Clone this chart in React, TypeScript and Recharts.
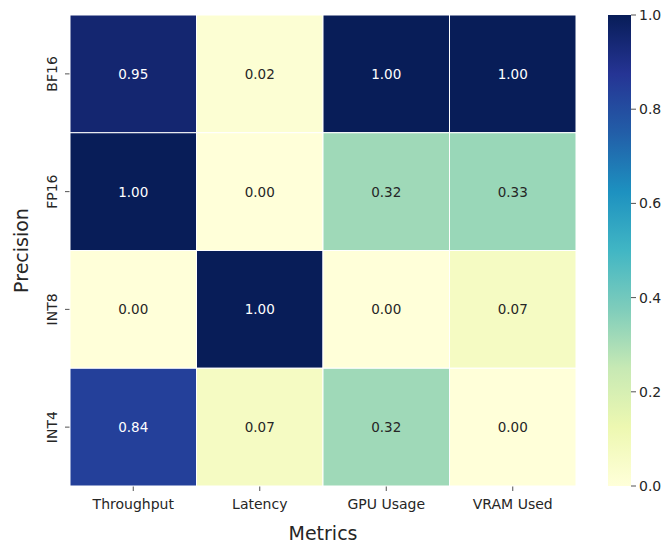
import React from 'react';
import { ScatterChart, Scatter, XAxis, YAxis, BarChart, Bar } from 'recharts';

const metrics = ['Throughput', 'Latency', 'GPU Usage', 'VRAM Used'];
const precisions = ['BF16', 'FP16', 'INT8', 'INT4'];

// normalized scores per precision, in metric order
const bf16 = [0.95, 0.02, 1.0, 1.0];
const fp16 = [1.0, 0.0, 0.32, 0.33];
const int8 = [0.0, 1.0, 0.0, 0.07];
const int4 = [0.84, 0.07, 0.32, 0.0];
const rows = [bf16, fp16, int8, int4];

const scaleTicks = [0, 0.2, 0.4, 0.6, 0.8, 1.0];

// YlGnBu stops (low -> high)
const ylgnbu = ['#ffffd9', '#edf8b1', '#c7e9b4', '#7fcdbb', '#41b6c4', '#1d91c0', '#225ea8', '#253494', '#081d58'];

const W = 662;
const H = 545;
const M = { top: 15, right: 86, bottom: 0, left: 0 };
const Y_AXIS_W = 70;
const X_AXIS_H = 59;
const PLOT_W = W - M.left - M.right - Y_AXIS_W;
const PLOT_H = H - M.top - M.bottom - X_AXIS_H;
const CELL_W = PLOT_W / metrics.length;
const CELL_H = PLOT_H / precisions.length;
const FONT = 'DejaVu Sans, sans-serif';
const INK = '#262626';

const hexToRgb = (h: string) => [1, 3, 5].map((i) => parseInt(h.slice(i, i + 2), 16));

const rgbAt = (v: number) => {
  const t = Math.max(0, Math.min(1, v)) * (ylgnbu.length - 1);
  const i = Math.min(Math.floor(t), ylgnbu.length - 2);
  const f = t - i;
  const a = hexToRgb(ylgnbu[i]);
  const b = hexToRgb(ylgnbu[i + 1]);
  return a.map((x, k) => x + (b[k] - x) * f);
};

const colorFor = (v: number) => {
  const c = rgbAt(v).map(Math.round);
  return `rgb(${c[0]},${c[1]},${c[2]})`;
};

// relative luminance, used to pick light or dark annotation text
const luminance = (v: number) => {
  const lin = rgbAt(v).map((x) => {
    const s = x / 255;
    return s <= 0.03928 ? s / 12.92 : Math.pow((s + 0.055) / 1.055, 2.4);
  });
  return 0.2126 * lin[0] + 0.7152 * lin[1] + 0.0722 * lin[2];
};

const cells = rows.flatMap((vals, r) =>
  vals.map((v, c) => ({ col: c + 0.5, row: r + 0.5, value: v }))
);

const HeatCell = (props: any) => {
  const { cx, cy, payload } = props;
  const v = payload.value;
  return (
    <g>
      <rect
        x={cx - CELL_W / 2}
        y={cy - CELL_H / 2}
        width={CELL_W}
        height={CELL_H}
        fill={colorFor(v)}
        stroke="#ffffff"
        strokeWidth={1}
      />
      <text
        x={cx}
        y={cy}
        textAnchor="middle"
        dominantBaseline="central"
        fontFamily={FONT}
        fontSize={13.5}
        fill={luminance(v) > 0.408 ? INK : '#ffffff'}
      >
        {v.toFixed(2)}
      </text>
    </g>
  );
};

const YTick = (props: any) => {
  const { x, y, payload } = props;
  const tx = x - 6;
  return (
    <text
      x={tx}
      y={y}
      transform={`rotate(-90, ${tx}, ${y})`}
      textAnchor="middle"
      fontFamily={FONT}
      fontSize={14}
      fill={INK}
    >
      {precisions[Math.floor(payload.value)]}
    </text>
  );
};

const App = () => {
  return (
    <div style={{ position: 'absolute', left: 0, top: 0, width: W, height: H, background: '#fff' }}>
      <ScatterChart width={W} height={H} margin={M}>
        <XAxis
          type="number"
          dataKey="col"
          domain={[0, metrics.length]}
          ticks={[0.5, 1.5, 2.5, 3.5]}
          tickFormatter={(v: number) => metrics[Math.floor(v)]}
          height={X_AXIS_H}
          axisLine={false}
          tickSize={5}
          tickLine={{ stroke: INK, strokeWidth: 0.8 }}
          tick={{ fill: INK, fontSize: 14, fontFamily: FONT }}
          tickMargin={8}
          interval={0}
          label={({ viewBox }: any) => (
            <text
              x={viewBox.x + viewBox.width / 2}
              y={viewBox.y + 54}
              textAnchor="middle"
              fontFamily={FONT}
              fontSize={19}
              fill={INK}
            >
              Metrics
            </text>
          )}
        />
        <YAxis
          type="number"
          dataKey="row"
          reversed
          domain={[0, precisions.length]}
          ticks={[0.5, 1.5, 2.5, 3.5]}
          width={Y_AXIS_W}
          axisLine={false}
          tickSize={5}
          tickLine={{ stroke: INK, strokeWidth: 0.8 }}
          tick={<YTick />}
          interval={0}
          label={({ viewBox }: any) => {
            const lx = viewBox.x + 21;
            const ly = viewBox.y + viewBox.height / 2;
            return (
              <text
                x={lx}
                y={ly}
                transform={`rotate(-90, ${lx}, ${ly})`}
                textAnchor="middle"
                dominantBaseline="central"
                fontFamily={FONT}
                fontSize={19}
                fill={INK}
              >
                Precision
              </text>
            );
          }}
        />
        <Scatter data={cells} shape={(p: any) => <HeatCell {...p} />} isAnimationActive={false} />
      </ScatterChart>

      {/* colorbar */}
      <div style={{ position: 'absolute', left: 600, top: 0 }}>
        <BarChart
          width={62}
          height={H}
          data={[{ name: 'scale', top: 1 }]}
          margin={{ top: M.top, right: 0, bottom: X_AXIS_H, left: 8 }}
          barCategoryGap={0}
        >
          <defs>
            <linearGradient id="cbar" x1="0" y1="1" x2="0" y2="0">
              {ylgnbu.map((c, i) => (
                <stop key={c} offset={`${(i / (ylgnbu.length - 1)) * 100}%`} stopColor={c} />
              ))}
            </linearGradient>
          </defs>
          <XAxis dataKey="name" hide />
          <YAxis
            orientation="right"
            domain={[0, 1]}
            ticks={scaleTicks}
            width={31}
            axisLine={false}
            tickSize={5}
            tickLine={{ stroke: INK, strokeWidth: 0.8 }}
            tick={{ fill: INK, fontSize: 14, fontFamily: FONT }}
            tickMargin={3}
            tickFormatter={(v: number) => v.toFixed(1)}
            interval={0}
          />
          <Bar dataKey="top" fill="url(#cbar)" isAnimationActive={false} />
        </BarChart>
      </div>
    </div>
  );
};

export default App;
